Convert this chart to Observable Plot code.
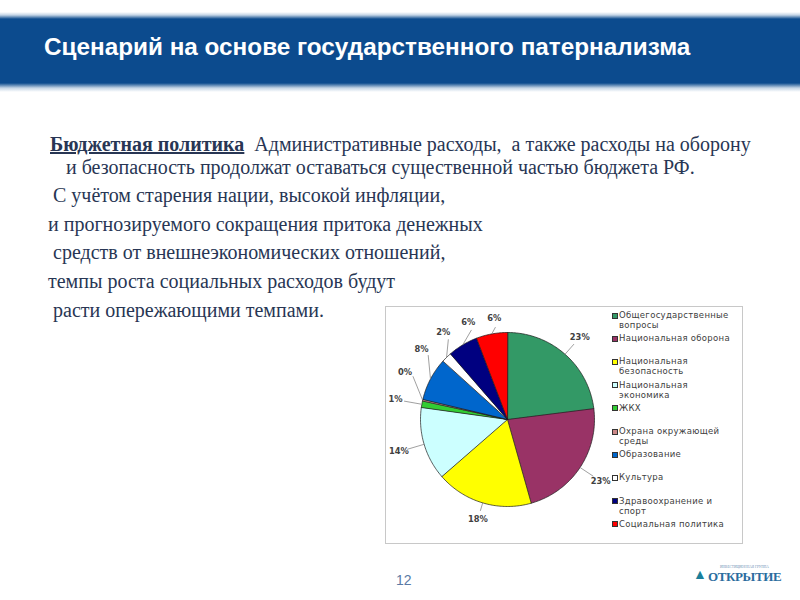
<!DOCTYPE html>
<html><head><meta charset="utf-8">
<script src="https://cdn.jsdelivr.net/npm/d3@7"></script>
<script src="https://cdn.jsdelivr.net/npm/@observablehq/plot@0.6"></script>
<style>
html,body{margin:0;padding:0}
body{width:800px;height:600px;background:#fff;position:relative;overflow:hidden;font-family:"Liberation Sans",Arial,sans-serif}
.band{position:absolute;left:0;top:12px;width:800px;height:80px;background:linear-gradient(to bottom,#fff 0px,#c5d5e6 3px,#0c4b8e 7px,#0c4b8e 71px,#c5d5e6 76px,#fff 80px)}
.title{position:absolute;left:44px;top:32px;color:#fff;font:bold 24.3px "Liberation Sans",Arial,sans-serif;white-space:nowrap;line-height:30px}
.txt{position:absolute;font-family:"Liberation Serif","Times New Roman",serif;font-size:20px;color:#283654;white-space:nowrap;line-height:22px}
.txt b{font-weight:bold;text-decoration:underline}
#box{position:absolute;left:385px;top:306px;width:356px;height:236px;border:1px solid #c8c8c8;background:#fff}
#pie{position:absolute;left:0;top:0}
.leg{position:absolute;left:233px;font-family:"DejaVu Sans",Verdana,sans-serif;font-size:8.5px;letter-spacing:0.3px;color:#404040;line-height:10px;width:112px}
.leg i{position:absolute;left:-7px;top:2.5px;width:4px;height:4px;border:0.7px solid #333}
.pg{position:absolute;left:396px;top:572px;font:14px "Liberation Sans",Arial;color:#5a7aa5}
.logo{position:absolute;left:693px;top:565px;color:#2a6c9e;font-family:"Liberation Serif",serif}
</style></head>
<body>
<div class="band"></div>
<div class="title">Сценарий на основе государственного патернализма</div>
<div id="text"></div>
<div id="box"><div id="pie"></div><div id="legend"></div></div>
<div class="pg">12</div>
<div class="logo"><span style="position:absolute;left:0;top:3px;font-size:14px;color:#1b7f9b;line-height:14px">▲</span><span style="position:absolute;left:27px;top:0;font-size:3.5px;line-height:4px;white-space:nowrap;color:#6a8fb5">ИНВЕСТИЦИОННАЯ ГРУППА</span><span style="position:absolute;left:15px;top:5px;font-size:13px;line-height:13px;white-space:nowrap;font-weight:bold;letter-spacing:-0.4px">ОТКРЫТИЕ</span></div>
<script>
// ---- data ----
const categories = ["Общегосударственные вопросы","Национальная оборона","Национальная безопасность","Национальная экономика","ЖКХ","Охрана окружающей среды","Образование","Культура","Здравоохранение и спорт","Социальная политика"];
const shares = [23.0, 22.6, 18.0, 13.6, 1.2, 0.3, 8.0, 1.9, 5.6, 5.8];
const colors = ["#339966","#993366","#ffff00","#ccffff","#33cc33","#cc8888","#0066cc","#ffffff","#000080","#ff0000"];
const textLines = [
  ["<b>Бюджетная политика</b>&nbsp; Административные расходы,&nbsp; а также расходы на оборону", 50, 133],
  ["и безопасность продолжат оставаться существенной частью бюджета РФ.", 66, 156],
  ["С учётом старения нации, высокой инфляции,", 53, 184],
  ["и прогнозируемого сокращения притока денежных", 48, 213],
  ["средств от внешнеэкономических отношений,", 53, 241],
  ["темпы роста социальных расходов будут", 48, 270],
  ["расти опережающими темпами.", 53, 299]
];
// ---- text ----
const tEl = document.getElementById("text");
for (const [h,x,y] of textLines){const d=document.createElement("div");d.className="txt";d.style.left=x+"px";d.style.top=y+"px";d.innerHTML=h;tEl.appendChild(d);}

// ---- pie ----
const rows = categories.map((c,i)=>({name:c,value:shares[i]}));
const arcs = d3.pie().sort(null).value(d=>d.value)(rows);
const pts = [];
for (const a of arcs){
  pts.push({name:a.data.name,x:0,y:0});
  const n = Math.max(2, Math.ceil((a.endAngle-a.startAngle)/(Math.PI/180)));
  for(let k=0;k<=n;k++){const t=a.startAngle+(a.endAngle-a.startAngle)*k/n;pts.push({name:a.data.name,x:Math.sin(t),y:Math.cos(t)});}
}
// label angles: push crowded labels clockwise
const mids = arcs.map(a=>(a.startAngle+a.endAngle)/2*180/Math.PI);
const ang = mids.slice();
const order = d3.range(ang.length).sort((i,j)=>ang[i]-ang[j]);
const gap = 14.5;
for(let k=1;k<order.length;k++){
  const i=order[k-1],j=order[k];
  if(ang[j]-ang[i]<gap) ang[j]=ang[i]+gap;
}
const labels = arcs.map((a,i)=>{
  const m=mids[i]*Math.PI/180, l=ang[i]*Math.PI/180;
  const s=Math.abs(Math.sin(l));
  const rl=1.15+0.16*s, rk=rl-0.1;
  return {label:Math.round(shares[i])+"%",x1:Math.sin(m),y1:Math.cos(m),x2:rk*Math.sin(l),y2:rk*Math.cos(l),lx:rl*Math.sin(l),ly:rl*Math.cos(l)};
});
const W=225,H=236,cx=121,cy=112,r=87;
const chart = Plot.plot({
  width:W,height:H,margin:0,
  x:{domain:[-cx/r,(W-cx)/r],axis:null},
  y:{domain:[-(H-cy)/r,cy/r],axis:null},
  color:{domain:categories,range:colors},
  style:{fontFamily:"'DejaVu Sans',Verdana,sans-serif",background:"transparent"},
  marks:[
    Plot.line(pts,{x:"x",y:"y",z:"name",fill:"name",stroke:"#1a1a1a",strokeWidth:0.7,curve:"linear-closed"}),
    Plot.link(labels,{x1:"x1",y1:"y1",x2:"x2",y2:"y2",stroke:"#888",strokeWidth:0.8}),
    Plot.text(labels,{x:"lx",y:"ly",text:"label",fontSize:8.3,fontWeight:"bold",fill:"#404040"})
  ]
});
document.getElementById("pie").appendChild(chart);
// ---- legend ----
const lg = document.getElementById("legend");
categories.forEach((c,i)=>{
  const d=document.createElement("div");d.className="leg";
  d.style.top=(3+i*23.2)+"px";
  d.innerHTML='<i style="background:'+colors[i]+'"></i>'+c;
  lg.appendChild(d);
});
</script>
</body></html>
